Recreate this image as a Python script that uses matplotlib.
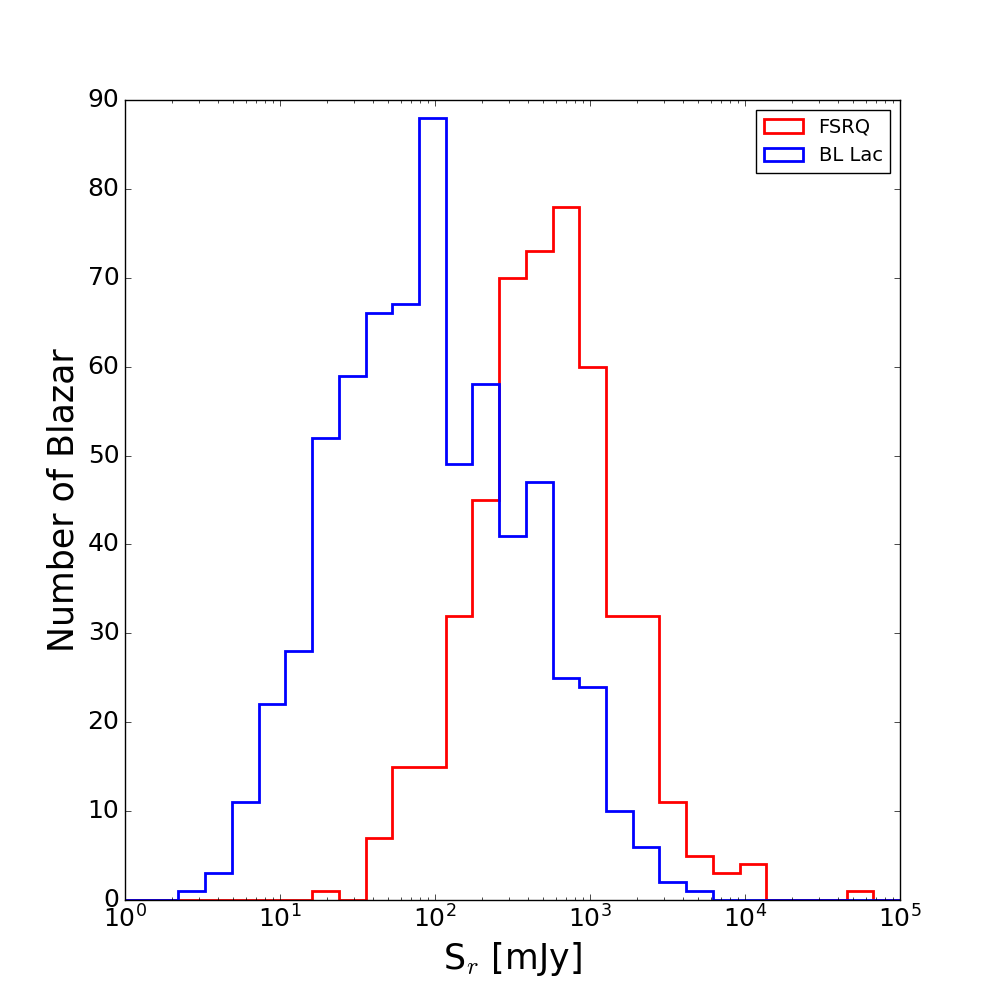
import numpy as np
import matplotlib
matplotlib.use('Agg')
import matplotlib.pyplot as plt

plt.style.use('classic')

# 对数分箱: 1 ~ 1e5, 29 个区间
bin_edges = np.logspace(0, 5, 30)

fsrq_counts = [0, 0, 0, 0, 0, 0, 0, 1, 0, 7, 15, 15, 32, 45, 70,
               73, 78, 60, 32, 32, 11, 5, 3, 4, 0, 0, 0, 1, 0]
bllac_counts = [0, 0, 1, 3, 11, 22, 28, 52, 59, 66, 67, 88, 49, 58, 41,
                47, 25, 24, 10, 6, 2, 1, 0, 0, 0, 0, 0, 0, 0]

fig = plt.figure(figsize=(10, 10), dpi=100, facecolor='white')
ax = fig.add_subplot(111)
ax.set_position([0.125, 0.1, 0.775, 0.8])

centers = np.sqrt(bin_edges[:-1] * bin_edges[1:])
ax.hist(centers, bins=bin_edges, weights=fsrq_counts, histtype='step',
        color='r', linewidth=2, label='FSRQ')
ax.hist(centers, bins=bin_edges, weights=bllac_counts, histtype='step',
        color='b', linewidth=2, label='BL Lac')

ax.set_xscale('log')
ax.set_xlim(1, 1e5)
ax.set_ylim(0, 90)
ax.set_yticks(np.arange(0, 91, 10))
ax.tick_params(labelsize=18)
ax.set_xlabel(r'S$_r$ [mJy]', fontsize=25)
ax.set_ylabel('Number of Blazar', fontsize=25)
ax.legend(loc='upper right', fontsize=14)

fig.savefig('out.png', dpi=100, facecolor='white')
